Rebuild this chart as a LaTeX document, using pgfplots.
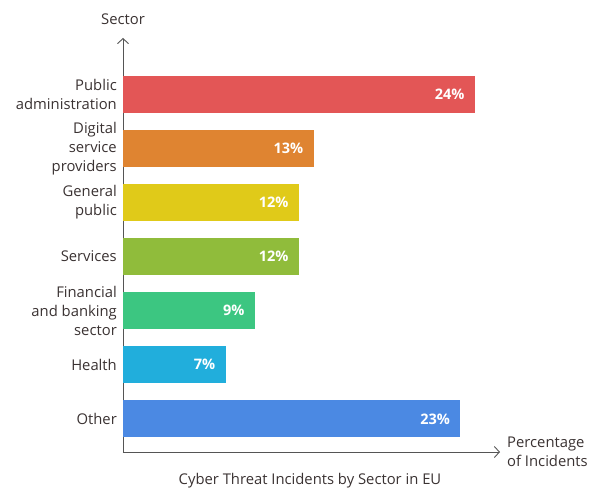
\documentclass[border=0pt]{standalone}
\usepackage{fontspec}
\setmainfont{Open Sans}
\usepackage{pgfplots}
\pgfplotsset{compat=1.18}
\usetikzlibrary{arrows.meta}
\definecolor{txt}{HTML}{3A3232}
\definecolor{axc}{HTML}{555555}
\definecolor{c1}{HTML}{E35656}
\definecolor{c2}{HTML}{DF8431}
\definecolor{c3}{HTML}{E0CA19}
\definecolor{c4}{HTML}{90BC3B}
\definecolor{c5}{HTML}{3CC681}
\definecolor{c6}{HTML}{21AEDC}
\definecolor{c7}{HTML}{4B89E3}
\begin{document}
\begin{tikzpicture}
\path[use as bounding box] (-123bp,-38bp) rectangle (470bp,452bp);
\begin{axis}[
  at={(0bp,33.07bp)}, anchor=origin,
  scale only axis, width=377bp, height=414bp,
  xmin=0, xmax=25.7, ymin=-0.611, ymax=7.037,
  axis lines=left,
  axis line style={axc, line width=0.9pt, -{Straight Barb[length=5bp,width=11bp,line width=0.9pt]}},
  xtick=\empty,
  ytick={0,1,2,3,4,5,6},
  yticklabels={Other,Health,{Financial\\and banking\\sector},Services,{General\\public},{Digital\\service\\providers},{Public\\administration}},
  yticklabel style={align=right, font=\fontsize{14.8bp}{19bp}\selectfont, text=txt, inner xsep=0pt, xshift=-6bp},
  major tick length=0pt,
  /pgf/number format/assume math mode=true,
  xbar, bar width=0.685, bar shift=0pt,
  nodes near coords={\pgfmathprintnumber{\pgfplotspointmeta}\%},
  point meta=x,
  every node near coord/.append style={anchor=east, xshift=-7bp, text=white, font=\fontsize{14.5bp}{16bp}\selectfont\bfseries},
  clip=false,
]
\addplot[draw=none, fill=c1] coordinates {(24,6)};
\addplot[draw=none, fill=c2] coordinates {(13,5)};
\addplot[draw=none, fill=c3] coordinates {(12,4)};
\addplot[draw=none, fill=c4] coordinates {(12,3)};
\addplot[draw=none, fill=c5] coordinates {(9,2)};
\addplot[draw=none, fill=c6] coordinates {(7,1)};
\addplot[draw=none, fill=c7] coordinates {(23,0)};
\end{axis}
\node[text=txt, font=\fontsize{14.8bp}{19bp}\selectfont] at (0bp,433bp) {Sector};
\node[text=txt, font=\fontsize{14.8bp}{19bp}\selectfont, align=left, anchor=west, inner sep=0pt] at (384bp,0bp) {Percentage\\of Incidents};
\node[text=txt, font=\fontsize{14.8bp}{19bp}\selectfont] at (187bp,-29bp) {Cyber Threat Incidents by Sector in EU};
\end{tikzpicture}
\end{document}
